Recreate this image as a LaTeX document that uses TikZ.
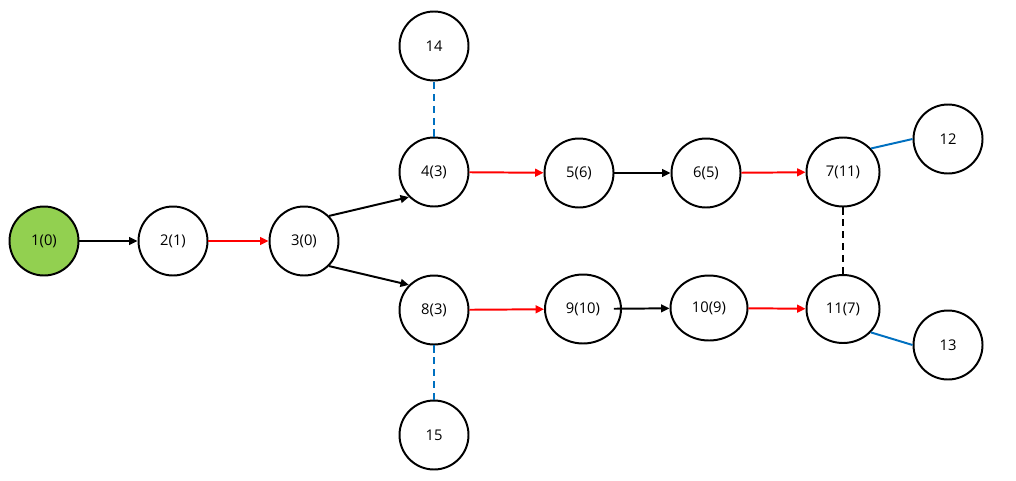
\documentclass[tikz,border=0pt]{standalone}
\usepackage{fontspec}
\setmainfont{Open Sans}
\usetikzlibrary{arrows.meta,shapes.geometric}
\definecolor{leafgreen}{RGB}{146,208,80}
\definecolor{linkblue}{RGB}{0,112,192}
\tikzset{
  vtx/.style={ellipse,draw=black,line width=1.4pt,fill=white,inner sep=0pt,
    minimum width=69*0.025cm,minimum height=69*0.025cm,font=\fontsize{10.5}{12}\selectfont},
  arc/.style={line width=1.4pt,-{Triangle[length=6pt,width=5.5pt]}},
  hot/.style={arc,red},
  aux/.style={line width=1.4pt,linkblue}
}
\begin{document}
\begin{tikzpicture}[x=0.025cm,y=-0.025cm]
        \useasboundingbox (0,0) rectangle (1016,480);
        \foreach \n/\x/\y/\lbl in {2/173/241/2(1), 3/304/241/3(0), 4/434/172/4(3), 5/579/173/5(6),
            6/706/173/6(5), 8/434/310/8(3), 12/948/139/12, 13/948/345/13, 14/434/46/14, 15/434/435/15}
            \node[vtx] (n\n) at (\x,\y) {\lbl};
        \node[vtx,fill=leafgreen] (n1) at (44,241) {1(0)};
        \node[vtx,minimum width=73*0.025cm] (n7) at (843,172) {7(11)};
        \node[vtx,minimum width=76*0.025cm] (n9) at (583,309) {9(10)};
        \node[vtx,minimum width=77*0.025cm,minimum height=65*0.025cm] (n10) at (709,308) {10(9)};
        \node[vtx,minimum width=73*0.025cm,minimum height=68*0.025cm] (n11) at (843,309) {11(7)};
        \draw[arc] (n1)--(n2); \draw[hot] (n2)--(n3);
        \draw[arc] (n3.45)--(n4.225); \draw[arc] (n3.-45)--(n8.135);
        \draw[hot] (n4)--(n5); \draw[arc] (n5)--(n6); \draw[hot] (n6)--(n7);
        \draw[hot] (n8)--(n9); \draw[arc,shorten <=-0.2cm] (n9)--(n10); \draw[hot] (n10)--(n11);
        \draw[line width=1.4pt,dashed,dash pattern=on 5pt off 3.5pt] (n7)--(n11);
        \draw[aux] (n7.40)--(n12.180); \draw[aux] (n11.-40)--(n13.180);
        \draw[aux,dashed,dash pattern=on 5pt off 3.5pt] (n4)--(n14);
        \draw[aux,dashed,dash pattern=on 5pt off 3.5pt] (n8)--(n15);
    \end{tikzpicture}
\end{document}
